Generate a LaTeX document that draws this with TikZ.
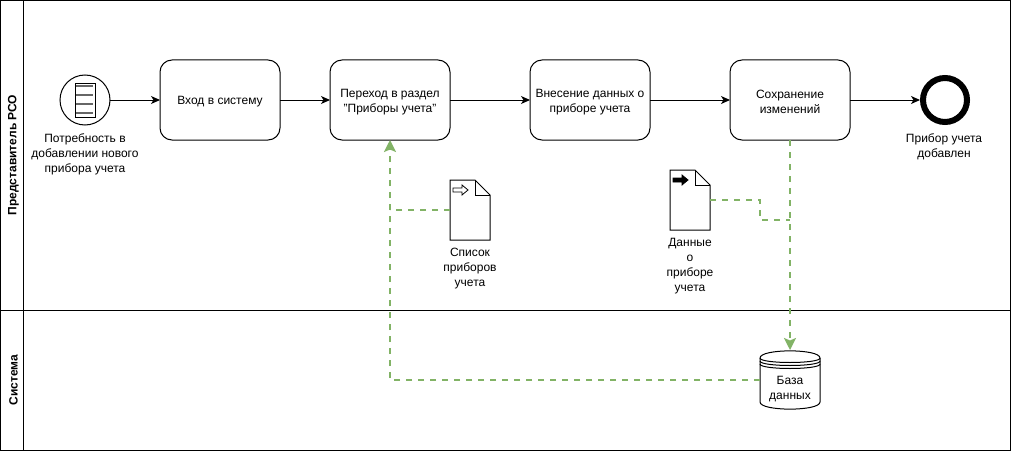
\documentclass[tikz,border=0pt]{standalone}
\usepackage{fontspec}
\setmainfont{Liberation Sans}
\usetikzlibrary{arrows.meta}
\definecolor{flowgreen}{RGB}{130,179,102}
\tikzset{
 x=1pt,y=-1pt,
 base/.style={font=\fontsize{12}{15}\selectfont,align=center,inner sep=0pt,outer sep=0pt},
 task/.style={draw=black,line width=1pt,rounded corners=12pt,minimum width=120pt,minimum height=80pt,fill=white,inner sep=0pt,outer sep=0pt},
 tasktext/.style={base,yshift=-2pt},
 lbl/.style={base},
 evstart/.style={draw=black,line width=1pt,circle,minimum size=50pt,inner sep=0pt,outer sep=0pt,fill=white},
 evend/.style={draw=black,line width=6pt,circle,minimum size=44pt,inner sep=0pt,outer sep=3pt,fill=white},
 holder/.style={inner sep=0pt,outer sep=0pt,minimum width=40pt,minimum height=60pt},
 dbholder/.style={inner sep=0pt,outer sep=0pt,minimum width=60pt,minimum height=60pt},
 seq/.style={draw=black,line width=1pt,-{Stealth[length=9pt,width=8pt,inset=2.5pt]}},
 assoc/.style={draw=flowgreen,line width=2pt,dash pattern=on 6pt off 6pt},
 assocarrow/.style={assoc,-{Stealth[length=12pt,width=12pt,inset=2.5pt]}},
 shp/.style={draw=black,line width=1pt,fill=white},
 hdr/.style={font=\fontsize{12}{15}\selectfont\bfseries,rotate=90,inner sep=0pt},
}
\begin{document}
\begin{tikzpicture}
\useasboundingbox (0,0) rectangle (1011,452);
\fill[white] (0,0) rectangle (1011,452);
% pool
\draw[black,line width=1pt] (0.5,0.5) rectangle (1010.5,450.5);
\draw[black,line width=1pt] (23,0.5) -- (23,450.5);
\draw[black,line width=1pt] (0.5,310) -- (1010.5,310);
\node[hdr] (h1) at (13.5,155) {Представитель РСО};
\node[hdr] (h2) at (13.5,380) {Система};
% tasks
\node[task,label={[tasktext]center:{Вход в систему}}] (t1) at (220,100) {};
\node[task,label={[tasktext]center:{Переход в раздел\\"Приборы учета"}}] (t2) at (390,100) {};
\node[task,label={[tasktext]center:{Внесение данных о\\приборе учета}}] (t3) at (590,100) {};
\node[task,label={[tasktext]center:{Сохранение\\изменений}}] (t4) at (790,100) {};
% start
\node[evstart] (s) at (85,100) {};
\draw[black,line width=1pt] (75.5,83) rectangle (95,117.5);
\foreach \yy in {86,95,104,113}{\draw[black!60,line width=2pt] (76,\yy) -- (93,\yy);}
\node[lbl] (sl) at (85,154.5) {Потребность в\\добавлении нового\\прибора учета};
% end
\node[evend] (e) at (945,100) {};
\node[lbl] (el) at (944,147) {Прибор учета\\добавлен};
% doc 1
\node[holder] (d1) at (470,210) {};
\draw[shp] (450,180) -- (475,180) -- (490,195) -- (490,240) -- (450,240) -- cycle;
\draw[black,line width=1pt] (475,180) -- (475,195) -- (490,195);
\draw[black,line width=.8pt,fill=white] (453,188) -- (462,188) -- (462,185) -- (468,190) -- (462,195) -- (462,192) -- (453,192) -- cycle;
\node[lbl] (d1l) at (470,269) {Список\\приборов\\учета};
% doc 2
\node[holder] (d2) at (690,200) {};
\draw[shp] (670,170) -- (695,170) -- (710,185) -- (710,230) -- (670,230) -- cycle;
\draw[black,line width=1pt] (695,170) -- (695,185) -- (710,185);
\draw[black,line width=.8pt,fill=black] (673,178) -- (682,178) -- (682,175) -- (688,180) -- (682,185) -- (682,182) -- (673,182) -- cycle;
\node[lbl] (d2l) at (690,266) {Данные\\о\\приборе\\учета};
% db
\node[dbholder] (db) at (790,380) {};
\draw[shp] (760,358) .. controls (760,348.5) and (820,348.5) .. (820,358) -- (820,402) .. controls (820,411.5) and (760,411.5) .. (760,402) -- cycle;
\foreach \yy in {358,361,364}{\draw[black,line width=1pt] (760,\yy) .. controls (760,\yy+6) and (820,\yy+6) .. (820,\yy);}
\node[lbl] (dbl) at (790,389) {База\\данных};
% sequence flows
\draw[seq] (s.east) -- (t1.west);
\draw[seq] (t1.east) -- (t2.west);
\draw[seq] (t2.east) -- (t3.west);
\draw[seq] (t3.east) -- (t4.west);
\draw[seq] (t4.east) -- (e.west);
% associations
\draw[assocarrow] (db.west) -| (t2.south);
\draw[assoc] (d1.west) -- (t2.south |- d1.west);
\draw[assocarrow] (t4.south) -- (db.north);
\coordinate (j) at (790,220);
\draw[assoc] (d2.east) -- (760,200) -- (760,220) -- (j);
\end{tikzpicture}
\end{document}
